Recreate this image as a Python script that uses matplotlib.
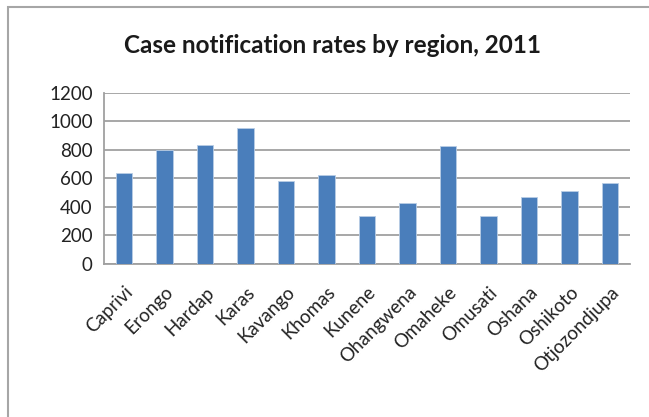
import matplotlib.pyplot as plt
from matplotlib.patches import Rectangle
import numpy as np

regions = ["Caprivi", "Erongo", "Hardap", "Karas", "Kavango", "Khomas", "Kunene",
           "Ohangwena", "Omaheke", "Omusati", "Oshana", "Oshikoto", "Otjozondjupa"]
rates = [636, 800, 835, 952, 580, 627, 339, 426, 830, 339, 468, 512, 571]
y_ticks = [0, 200, 400, 600, 800, 1000, 1200]

plt.rcParams["font.family"] = ["Lato", "DejaVu Sans"]

fig = plt.figure(figsize=(6.49, 4.17), dpi=100)
ax = fig.add_axes([0.160, 0.367, 0.811, 0.410])

# chart frame
fig.patches.append(Rectangle((8 / 649, -0.05), 1.0, 1 - 7 / 417 + 0.05,
                             transform=fig.transFigure, fill=False,
                             edgecolor="#a6a6a6", linewidth=1.5))

x = np.arange(len(regions))
ax.bar(x, rates, width=0.4, color="#4a7ebb", edgecolor="#b9cde5", linewidth=0.6, zorder=3)

ax.set_xlim(-0.5, len(regions) - 0.5)
ax.set_ylim(0, 1200)
ax.set_yticks(y_ticks)
ax.set_yticklabels([str(v) for v in y_ticks], fontsize=13.5, color="#222222")
ax.set_xticks(x)
ax.set_xticklabels(regions, rotation=45, ha="right", rotation_mode="anchor",
                   fontsize=13.5, color="#222222")
ax.tick_params(length=0, pad=8)
ax.tick_params(axis="x", pad=14)
ax.grid(axis="y", color="#a0a0a0", linewidth=1.3, zorder=0)
for side in ("top", "right"):
    ax.spines[side].set_visible(False)
for side in ("left", "bottom"):
    ax.spines[side].set_color("#a0a0a0")
    ax.spines[side].set_linewidth(1.3)

fig.text(0.513, 0.89, "Case notification rates by region, 2011", ha="center", va="center",
         fontsize=17.5, fontweight="bold", color="#1a1a1a")

fig.savefig("out.png", dpi=100)
